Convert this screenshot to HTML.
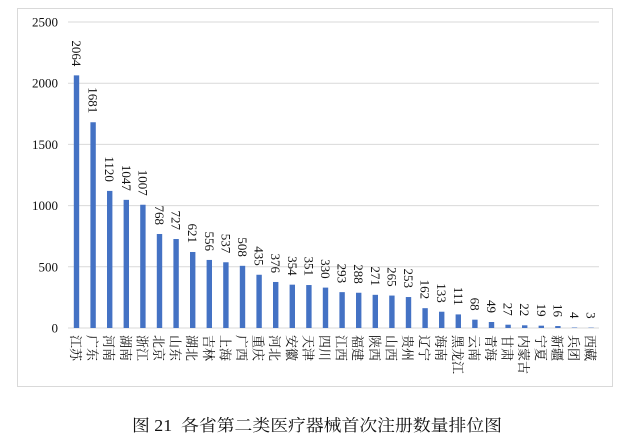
<!DOCTYPE html>
<html><head><meta charset="utf-8"><style>
html,body{margin:0;padding:0;background:#fff;}
svg{display:block;}
text{font-family:"Liberation Serif","Noto Serif CJK SC","Noto Sans CJK SC",serif;fill:#111;}
</style></head><body>
<svg id="s" width="632" height="444" xmlns="http://www.w3.org/2000/svg">
<rect x="17.5" y="8.5" width="595" height="378" fill="#fff" stroke="#d9d9d9" stroke-width="1"/>
<g id="g"></g>
<text x="132" y="431" font-size="16.5" textLength="370" lengthAdjust="spacingAndGlyphs">图 21&#160;&#160;各省第二类医疗器械首次注册数量排位图</text>
</svg>
<script>
var names=["江苏","广东","河南","湖南","浙江","北京","山东","湖北","吉林","上海","广西","重庆","河北","安徽","天津","四川","江西","福建","陕西","山西","贵州","辽宁","海南","黑龙江","云南","青海","甘肃","内蒙古","宁夏","新疆","兵团","西藏"];
var vals=[2064,1681,1120,1047,1007,768,727,621,556,537,508,435,376,354,351,330,293,288,271,265,253,162,133,111,68,49,27,22,19,16,4,3];
var s="";
var y0=328,k=306/2500;
for(var v=0;v<=2500;v+=500){var y=(y0-v*k).toFixed(1);
s+='<line x1="68" x2="599" y1="'+y+'" y2="'+y+'" stroke="#d9d9d9" stroke-width="1"/>';
s+='<text x="58" y="'+(+y+4.5)+'" font-size="13" text-anchor="end">'+v+'</text>';}
for(var i=0;i<32;i++){var cx=76.5+i*16.6,h=vals[i]*k,t=y0-h;
s+='<rect x="'+(cx-2.7)+'" y="'+t+'" width="5.4" height="'+h+'" fill="#4472c4"/>';
s+='<text transform="translate('+(cx-4.5)+','+(t-9)+') rotate(90)" font-size="13" text-anchor="end">'+vals[i]+'</text>';
s+='<text transform="translate('+(cx-5.5)+',335) rotate(90)" font-size="13">'+names[i]+'</text>';}
document.getElementById("g").innerHTML=s;
</script>
</body></html>
